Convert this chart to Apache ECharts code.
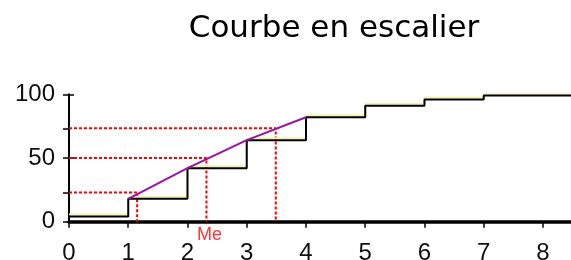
<!DOCTYPE html>
<html>
<head>
<meta charset="utf-8">
<script src="https://cdn.jsdelivr.net/npm/echarts@6/dist/echarts.min.js"></script>
<style>
  html, body { margin: 0; padding: 0; background: #fff; }
  #chart { width: 571px; height: 260px; }
</style>
</head>
<body>
<div id="chart"></div>
<script>
// data
const titleText = 'Courbe en escalier';
const classBounds = [0, 1, 2, 3, 4, 5, 6, 7, 8.5];
const cumPercent = [4, 18, 42, 64, 82, 91, 96, 99, 99];
const polygonFrom = 1, polygonTo = 4; // cumulative polygon between these bounds
const quartileX = [1.15, 2.32, 3.49];
const quartileY = [23, 50, 73.3];
const medianLabel = 'Me';
const xTicks = [0, 1, 2, 3, 4, 5, 6, 7, 8];
const yLabels = [0, 50, 100];

const ChartApp = {
    chart: null,

    init() {
        this.chart = echarts.init(document.getElementById('chart'));
        this.render();
    },

    render() {
        const stepData = classBounds.map((x, i) => [x, cumPercent[i]]);
        const polyData = stepData.filter(p => p[0] >= polygonFrom && p[0] <= polygonTo);

        // pointillés rouges : axe -> courbe -> axe des x
        const dashSeries = quartileX.map((qx, i) => ({
            type: 'line',
            data: [[0, quartileY[i]], [qx, quartileY[i]], [qx, 0]],
            symbol: 'none',
            silent: true,
            z: 1,
            lineStyle: { color: '#ff0000', width: 2, type: [3, 2] }
        }));

        const font = "'Liberation Sans', Arial, sans-serif";

        this.chart.setOption({
            animation: false,
            graphic: [{
                type: 'text', x: 334, y: 29,
                style: {
                    text: titleText, fill: '#000',
                    font: "31px 'DejaVu Sans', sans-serif",
                    textAlign: 'center', textVerticalAlign: 'middle'
                }
            }],
            grid: { left: 69, top: 94.3, width: 503.6, height: 127.4, outerBoundsMode: 'none' },
            xAxis: {
                type: 'value', min: 0, max: 8.5, interval: 1,
                splitLine: { show: false },
                axisLine: { lineStyle: { color: '#000', width: 3.5 } },
                axisTick: { length: 6, customValues: xTicks, lineStyle: { color: '#000', width: 1.5 } },
                axisLabel: {
                    customValues: xTicks, margin: 20,
                    color: '#111', fontSize: 24, fontFamily: font
                }
            },
            yAxis: [{
                type: 'value', min: 0, max: 100,
                splitLine: { show: false },
                axisLine: { show: true, lineStyle: { color: '#000', width: 2 } },
                axisTick: { length: 6, customValues: [0].concat(quartileY, [100]),
                            lineStyle: { color: '#000', width: 1.5 } },
                axisLabel: {
                    customValues: yLabels, margin: 14,
                    color: '#111', fontSize: 24, fontFamily: font
                }
            }, {
                type: 'value', min: 0, max: 100, position: 'left',
                splitLine: { show: false },
                axisLine: { show: false },
                axisLabel: { show: false },
                axisTick: { inside: true, length: 5, customValues: [50, 100],
                            lineStyle: { color: '#000', width: 1.5 } }
            }],
            series: dashSeries.concat([
                {
                    // courbe en escalier
                    type: 'line', step: 'end', data: stepData,
                    symbol: 'none', z: 3,
                    lineStyle: {
                        color: '#000', width: 2,
                        shadowColor: '#f6f2b0', shadowBlur: 0, shadowOffsetY: -2
                    }
                },
                {
                    // polygone des fréquences cumulées
                    type: 'line', data: polyData, symbol: 'none', z: 4,
                    lineStyle: { color: '#9a12a8', width: 2 }
                },
                {
                    type: 'scatter', data: [[quartileX[1], 0]], symbolSize: 0, z: 5,
                    label: {
                        show: true, formatter: medianLabel, position: 'bottom',
                        distance: 4, offset: [3, 0],
                        color: '#ff0000', fontSize: 18, fontFamily: font
                    }
                }
            ])
        });
    }
};

window.onload = () => ChartApp.init();
</script>
</body>
</html>
